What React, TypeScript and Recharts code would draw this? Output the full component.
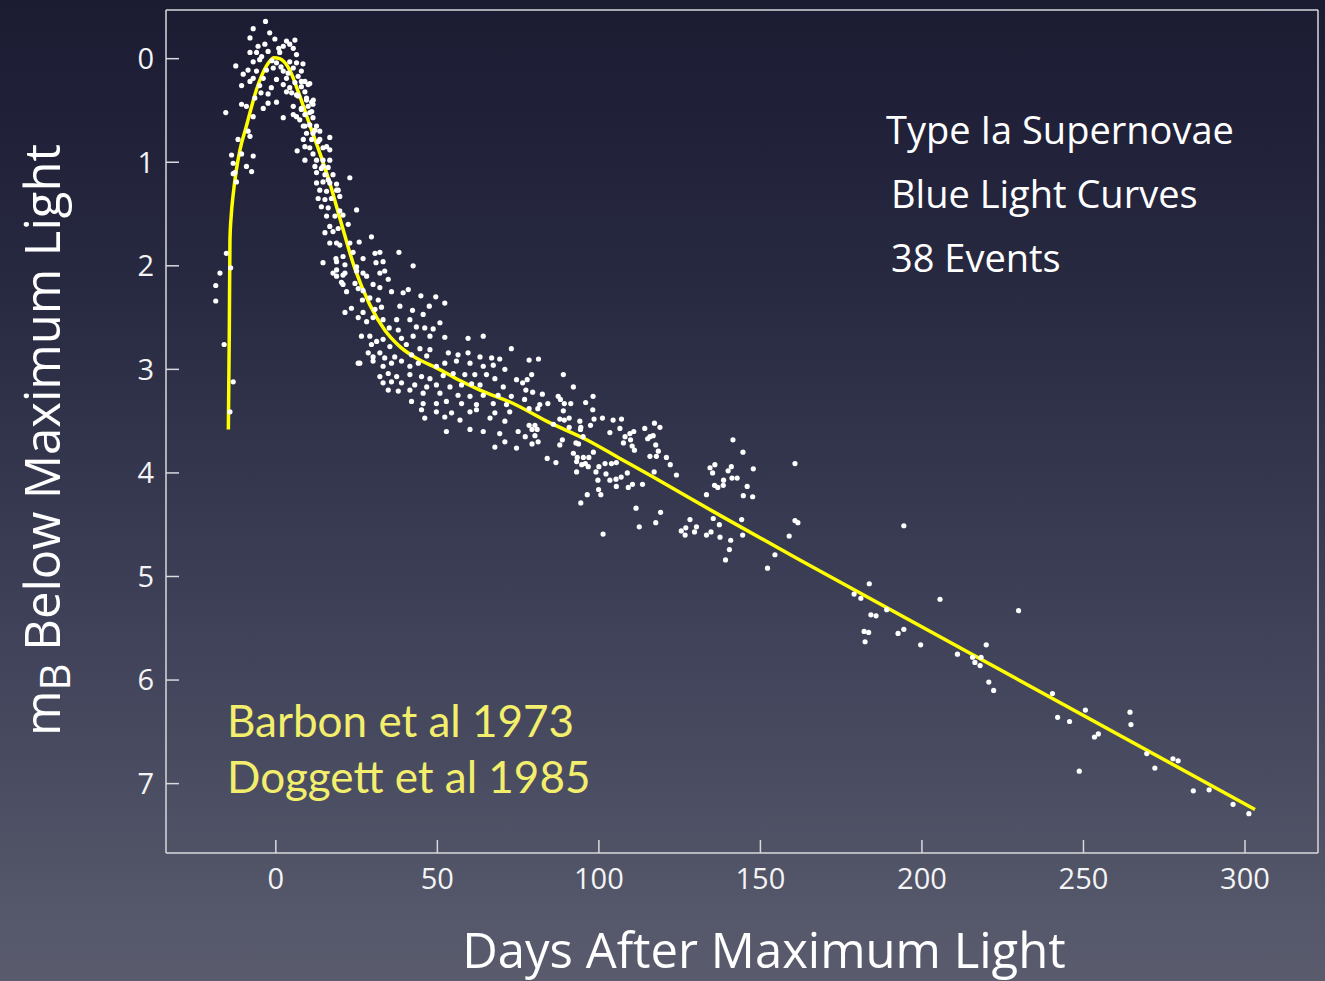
import React from 'react';
import { ComposedChart, Scatter, Line, XAxis, YAxis } from 'recharts';

// [days after maximum, magnitudes below maximum]
const risePoints: [number, number][] = [
  [-18.6, 2.19], [-18.6, 2.34], [-17.3, 2.07], [-16.0, 2.76], [-13.2, 3.12], [-14.2, 3.41],
  [-15.3, 1.88], [-14.0, 2.02], [-15.5, 0.52], [-13.7, 0.93], [-13.2, 1.01], [-12.7, 1.10],
  [-13.2, 1.11], [-12.2, 1.19], [-11.7, 0.78], [-10.6, 0.92], [-9.1, 1.04], [-7.5, 1.09],
  [-7.0, 0.94], [-8.6, 0.70], [-8.0, 0.75], [-7.0, 0.56], [-10.6, 0.44], [-9.1, 0.46],
  [-6.5, 0.38], [-3.9, 0.48], [-2.4, 0.43], [0.2, 0.42], [-2.4, 0.34], [-10.6, 0.26],
  [-5.0, 0.26], [-8.0, 0.22], [-10.1, 0.15], [-7.0, 0.19], [-3.9, 0.19], [0.2, 0.20],
  [-12.4, 0.07], [-8.6, 0.11], [-6.0, 0.12], [-2.9, 0.11], [-0.8, 0.09], [-7.0, 0.03],
  [-5.0, 0.01], [0.2, 0.04], [-8.0, -0.06], [-6.0, -0.06], [-2.4, -0.07], [1.2, -0.06],
  [-3.4, -0.14], [-5.5, -0.12], [-8.0, -0.20], [-0.3, -0.19], [-1.9, -0.25], [-7.0, -0.29],
  [-3.2, -0.36], [-4.4, -0.02], [-1.2, 0.02], [-4.6, 0.33], [-1.4, 0.28],
];

const peakPoints: [number, number][] = [
  [3.3, -0.17], [5.9, -0.18], [2.3, -0.12], [4.3, -0.14], [5.4, -0.10], [6.4, -0.04],
  [4.3, 0.03], [6.4, 0.04], [2.3, 0.12], [5.4, 0.09], [7.9, 0.12], [3.3, 0.19], [6.9, 0.17],
  [9.0, 0.22], [2.3, 0.25], [4.3, 0.28], [7.9, 0.27], [10.5, 0.24], [3.3, 0.32], [6.4, 0.35],
  [9.0, 0.32], [2.3, 0.57], [5.4, 0.54], [11.1, 0.51], [11.6, 0.40], [9.5, 0.40], [7.9, 0.49],
  [11.5, 0.57], [9.0, 0.65], [12.1, 0.69], [13.6, 0.78], [15.7, 0.85], [14.6, 1.04],
  [16.2, 1.17], [18.8, 1.27], [5.9, 0.23], [7.9, 0.22], [10.0, 0.25], [4.9, 0.33], [6.9, 0.36],
  [9.5, 0.38], [11.1, 0.42], [5.4, 0.46], [7.9, 0.48], [10.0, 0.46], [11.5, 0.44], [6.4, 0.56],
  [9.0, 0.54], [10.5, 0.52], [7.4, 0.59], [1.6, 0.08], [3.8, 0.14], [8.4, 0.05], [0.9, -0.1],
];

const earlyDeclinePoints: [number, number][] = [
  [8.5, 0.65], [10.5, 0.64], [12.6, 0.65], [9.5, 0.72], [11.5, 0.72], [13.6, 0.70], [16.7, 0.76],
  [8.5, 0.78], [11.1, 0.78], [13.1, 0.80], [9.0, 0.85], [10.5, 0.86], [14.6, 0.86], [16.7, 0.88],
  [6.6, 0.89], [11.5, 0.92], [9.0, 0.98], [12.6, 0.98], [14.6, 0.98], [16.7, 0.98], [12.1, 1.04],
  [14.1, 1.06], [16.2, 1.05], [12.6, 1.10], [15.2, 1.12], [17.7, 1.12], [22.9, 1.15], [12.6, 1.20],
  [14.6, 1.19], [16.7, 1.20], [18.8, 1.21], [13.6, 1.27], [15.7, 1.28], [19.3, 1.27], [13.1, 1.35],
  [15.2, 1.36], [17.2, 1.35], [19.8, 1.33], [25.0, 1.46], [14.1, 1.43], [16.2, 1.44], [19.8, 1.47],
  [15.7, 1.52], [18.3, 1.52], [20.8, 1.51], [16.7, 1.62], [19.3, 1.64], [22.4, 1.60], [15.2, 1.68],
  [17.7, 1.67], [16.7, 1.78], [19.8, 1.80], [22.9, 1.78], [14.6, 1.97], [18.8, 1.96], [17.7, 2.07],
  [20.8, 2.09], [25.0, 2.05], [20.8, 2.18], [25.5, 2.22],
];

const kneePoints: [number, number][] = [
  [29.6, 1.72], [25.8, 1.77], [18.8, 1.78], [32.2, 1.87], [30.7, 1.88], [38.1, 1.87], [23.9, 1.87],
  [20.8, 1.91], [18.6, 1.93], [27.0, 1.93], [31.0, 1.97], [33.2, 1.96], [42.5, 2.00], [21.4, 1.99],
  [25.0, 2.01], [18.8, 2.04], [21.4, 2.07], [27.0, 2.07], [32.2, 2.07], [33.7, 2.05], [18.8, 2.10],
  [28.1, 2.10], [34.8, 2.13], [20.3, 2.16], [24.5, 2.17], [32.2, 2.21], [30.1, 2.18], [27.0, 2.24],
  [21.9, 2.25], [35.8, 2.25], [39.4, 2.26], [41.0, 2.23], [44.9, 2.29], [49.5, 2.30], [52.3, 2.36],
  [26.8, 2.33], [29.1, 2.31], [31.7, 2.33], [23.4, 2.41], [21.4, 2.45], [27.0, 2.45], [30.7, 2.42],
  [32.7, 2.40], [38.4, 2.39], [42.3, 2.43], [47.5, 2.39], [45.6, 2.47], [33.2, 2.52], [28.1, 2.54],
  [30.1, 2.50], [25.5, 2.50], [37.4, 2.52], [41.5, 2.52], [50.8, 2.55], [35.1, 2.60], [37.9, 2.62],
  [43.5, 2.59], [46.1, 2.60], [48.7, 2.61], [26.5, 2.68], [29.1, 2.68], [31.2, 2.73], [33.2, 2.71],
  [38.9, 2.70], [42.5, 2.68], [47.7, 2.68], [52.3, 2.69], [59.5, 2.70], [64.2, 2.68], [72.9, 2.80],
  [29.6, 2.76], [35.3, 2.78], [40.4, 2.76], [44.6, 2.80], [47.7, 2.81], [28.6, 2.84], [30.1, 2.88],
  [32.2, 2.84], [33.7, 2.89], [36.8, 2.88], [42.0, 2.86], [46.7, 2.87], [53.4, 2.84], [56.4, 2.86],
  [59.5, 2.84], [63.2, 2.88], [66.8, 2.89], [69.3, 2.90], [26.0, 2.94], [30.1, 2.92], [33.2, 2.97],
  [35.8, 2.94], [38.9, 2.92], [41.5, 2.97], [44.1, 2.94], [49.7, 2.97], [52.3, 2.94], [55.9, 2.92],
  [60.1, 2.94], [64.2, 2.97], [67.3, 2.96], [70.9, 3.00], [32.2, 3.07], [34.8, 3.04], [37.4, 3.07],
  [41.5, 3.05], [45.1, 3.07], [47.7, 3.09], [51.8, 3.06], [54.9, 3.04], [58.5, 3.05], [61.6, 3.05],
  [65.2, 3.05], [67.8, 3.09], [74.5, 3.10], [33.2, 3.13], [35.8, 3.12], [38.9, 3.13], [43.0, 3.15],
  [46.7, 3.17], [49.7, 3.15], [53.9, 3.17], [57.5, 3.15], [60.6, 3.14], [63.2, 3.15], [70.4, 3.17],
  [34.8, 3.20], [37.9, 3.21], [41.5, 3.20], [45.6, 3.23], [50.8, 3.23], [56.4, 3.25], [60.1, 3.26],
  [64.2, 3.25], [68.8, 3.25], [72.9, 3.26], [42.0, 3.31], [45.6, 3.33], [49.7, 3.33], [52.8, 3.31],
  [57.5, 3.33], [62.1, 3.34], [67.3, 3.33], [71.4, 3.34], [45.1, 3.39], [49.7, 3.41], [52.3, 3.46],
  [54.4, 3.42], [60.1, 3.41], [62.1, 3.39], [67.8, 3.42], [72.4, 3.41], [46.1, 3.47], [57.0, 3.49],
  [66.3, 3.47], [70.9, 3.50], [52.8, 3.60], [60.1, 3.58], [64.2, 3.60], [69.3, 3.62], [75.0, 3.60],
  [70.9, 3.70], [74.5, 3.76], [67.8, 3.75], [25.5, 2.94],
];

const plateauPoints: [number, number][] = [
  [78.4, 2.91], [81.3, 2.90], [79.2, 3.05], [89.0, 3.05], [76.4, 3.13], [77.8, 3.10], [77.4, 3.20],
  [79.5, 3.22], [82.5, 3.24], [92.1, 3.17], [87.4, 3.26], [88.1, 3.29], [89.3, 3.33], [91.3, 3.33],
  [95.9, 3.32], [98.2, 3.26], [77.0, 3.29], [81.7, 3.34], [84.2, 3.33], [78.4, 3.38], [81.1, 3.38],
  [89.0, 3.40], [98.1, 3.39], [101.1, 3.47], [87.9, 3.48], [89.3, 3.49], [90.8, 3.47], [90.8, 3.56],
  [94.1, 3.50], [94.4, 3.56], [97.4, 3.54], [98.5, 3.48], [78.4, 3.54], [80.2, 3.54], [79.3, 3.58],
  [80.9, 3.58], [77.2, 3.65], [80.2, 3.64], [79.3, 3.72], [81.2, 3.70], [85.9, 3.53], [88.7, 3.68],
  [87.9, 3.73], [92.9, 3.71], [93.7, 3.72], [95.1, 3.65], [94.3, 3.58], [103.4, 3.61], [104.4, 3.49],
  [106.5, 3.57], [107.0, 3.48], [108.1, 3.65], [109.8, 3.68], [109.6, 3.62], [110.8, 3.60],
  [107.6, 3.71], [110.3, 3.74], [111.0, 3.78], [114.2, 3.57], [115.1, 3.67], [115.8, 3.65],
  [116.8, 3.64], [117.2, 3.52], [118.9, 3.56], [117.6, 3.73], [118.4, 3.79], [115.8, 3.84],
  [117.8, 3.84], [120.9, 3.85], [122.1, 3.92], [124.0, 4.02], [92.1, 3.81], [93.3, 3.85],
  [95.2, 3.85], [96.9, 3.85], [98.3, 3.80], [95.8, 3.91], [96.7, 3.94], [94.7, 3.92], [93.1, 3.99],
  [100.0, 3.94], [101.9, 3.91], [103.9, 3.91], [105.4, 3.90], [99.1, 3.99], [102.2, 4.01],
  [99.7, 4.07], [103.4, 4.07], [105.3, 4.06], [106.9, 4.04], [108.8, 4.00], [110.4, 4.11],
  [109.1, 4.14], [105.4, 4.13], [113.5, 4.11], [117.1, 3.99], [99.9, 4.16], [100.6, 4.21],
  [96.4, 4.21], [94.4, 4.29], [84.0, 3.86], [86.7, 3.90], [93.1, 3.89], [111.5, 4.34], [112.5, 4.52],
  [119.1, 4.38], [117.6, 4.48], [101.3, 4.59], [133.3, 4.21], [134.4, 3.95], [135.9, 3.92],
  [135.2, 4.00], [135.8, 4.12], [136.8, 4.14], [138.5, 4.12], [138.6, 4.07], [140.0, 3.98],
  [141.0, 3.94], [141.2, 4.05], [142.8, 4.05], [141.5, 3.68], [144.6, 3.80], [145.9, 4.13],
  [144.7, 4.22], [147.6, 4.23], [147.8, 3.96], [128.2, 4.45], [126.9, 4.53], [125.5, 4.56],
  [126.7, 4.60], [129.6, 4.57], [130.2, 4.52], [133.3, 4.60], [134.7, 4.57], [135.4, 4.44],
  [137.3, 4.50], [137.5, 4.62], [140.8, 4.65], [140.4, 4.74], [139.2, 4.84], [144.2, 4.45],
  [144.5, 4.60], [154.5, 4.79], [152.2, 4.92], [158.9, 4.61], [160.7, 3.91], [160.7, 4.46],
  [161.6, 4.48],
];

const tailPoints: [number, number][] = [
  [194.4, 4.51], [183.7, 5.07], [179.0, 5.17], [181.1, 5.21], [205.6, 5.22], [229.9, 5.33],
  [184.2, 5.37], [185.8, 5.38], [189.1, 5.32], [182.1, 5.53], [183.5, 5.54], [194.4, 5.51],
  [192.6, 5.55], [182.4, 5.63], [199.6, 5.66], [211.0, 5.75], [219.9, 5.66], [215.7, 5.78],
  [218.3, 5.78], [216.4, 5.83], [218.0, 5.86], [220.7, 6.02], [222.2, 6.10], [240.4, 6.13],
  [242.0, 6.36], [245.7, 6.40], [250.6, 6.29], [248.7, 6.88], [254.6, 6.52], [253.4, 6.55],
  [264.4, 6.31], [264.7, 6.43], [269.6, 6.71], [272.1, 6.85], [277.7, 6.76], [279.3, 6.78],
  [284.0, 7.07], [288.9, 7.06], [296.3, 7.20], [301.2, 7.29],
];

// template light curve drawn through the data
const templateCurve: [number, number][] = [
  [-14.7, 3.58], [-14.4, 2.62], [-14.2, 1.75], [-13.8, 1.51], [-13.2, 1.31], [-12.2, 1.07],
  [-11.1, 0.88], [-9.1, 0.65], [-6.0, 0.30], [-2.9, 0.07], [-0.6, -0.01], [1.2, 0.0], [4.3, 0.11],
  [7.4, 0.36], [10.5, 0.64], [13.6, 0.91], [16.7, 1.2], [20.0, 1.56], [24.5, 2.03], [29.0, 2.37],
  [33.7, 2.62], [38.4, 2.78], [44.0, 2.90], [50.0, 2.99], [56.5, 3.10], [63.2, 3.20], [73.5, 3.33],
  [83.8, 3.50], [96.2, 3.68], [106.5, 3.86], [116.8, 4.04], [137.5, 4.41], [162.2, 4.84],
  [303.1, 7.25],
];

const dayTicks = [0, 50, 100, 150, 200, 250, 300];
const magTicks = [0, 1, 2, 3, 4, 5, 6, 7];

const toRows = (pts: [number, number][]) => pts.map(([day, mag]) => ({ day, mag }));

const observations = toRows([
  ...risePoints,
  ...peakPoints,
  ...earlyDeclinePoints,
  ...kneePoints,
  ...plateauPoints,
  ...tailPoints,
]);
const curve = toRows(templateCurve);

const W = 1325;
const H = 981;
const axisColor = '#d9d9de';
const sans = '"Open Sans", "DejaVu Sans", sans-serif';
const gill = 'Lato, "Open Sans", sans-serif';

const Dot = (props: any) => <circle cx={props.cx} cy={props.cy} r={2.6} fill="#ffffff" />;

export default function App() {
  const line = { stroke: axisColor, strokeWidth: 1.5 };
  const tickText = { fill: '#f4f4f6', fontSize: 29, fontFamily: sans };
  return (
    <div
      style={{
        position: 'absolute',
        left: 0,
        top: 0,
        width: W,
        height: H,
        overflow: 'hidden',
        background: 'linear-gradient(180deg, #1b1b32 0%, #282a42 30%, #3d4057 62%, #5a5c6e 100%)',
      }}
    >
      <ComposedChart width={W} height={H} margin={{ top: 9, right: 6, bottom: 127, left: 165 }}>
        <XAxis
          dataKey="day"
          type="number"
          domain={[-34, 322.6]}
          allowDataOverflow
          ticks={dayTicks}
          interval={0}
          height={1}
          axisLine={line}
          tickLine={line}
          tickSize={-13}
          tickMargin={28}
          tick={tickText}
        />
        <XAxis
          xAxisId="top"
          orientation="top"
          type="number"
          domain={[-34, 322.6]}
          allowDataOverflow
          ticks={dayTicks}
          interval={0}
          height={1}
          axisLine={line}
          tickLine={line}
          tickSize={-12}
          tick={false}
        />
        <YAxis
          dataKey="mag"
          type="number"
          reversed
          domain={[-0.47, 7.67]}
          allowDataOverflow
          ticks={magTicks}
          interval={0}
          width={1}
          axisLine={line}
          tickLine={line}
          tickSize={-13}
          tickMargin={25}
          tick={tickText}
        />
        <YAxis
          yAxisId="right"
          orientation="right"
          type="number"
          reversed
          domain={[-0.47, 7.67]}
          allowDataOverflow
          ticks={magTicks}
          interval={0}
          width={1}
          axisLine={line}
          tickLine={line}
          tickSize={-14}
          tick={false}
        />
        <Scatter data={observations} shape={Dot} isAnimationActive={false} />
        <Line
          data={curve}
          dataKey="mag"
          type="monotone"
          stroke="#ffff00"
          strokeWidth={3.5}
          dot={false}
          activeDot={false}
          isAnimationActive={false}
        />
      </ComposedChart>
      <svg
        width={W}
        height={H}
        style={{ position: 'absolute', left: 0, top: 0, pointerEvents: 'none' }}
      >
        <g fill="#ffffff" fontFamily={sans} fontSize={38}>
          <text x={886} y={144}>Type Ia Supernovae</text>
          <text x={891} y={208}>Blue Light Curves</text>
          <text x={891} y={272}>38 Events</text>
        </g>
        <g fill="#f3ef6c" fontFamily={gill} fontSize={44}>
          <text x={227} y={737}>Barbon et al 1973</text>
          <text x={227} y={793}>Doggett et al 1985</text>
        </g>
        <text x={764} y={968} textAnchor="middle" fill="#ffffff" fontFamily={sans} fontSize={49}>
          Days After Maximum Light
        </text>
        <text
          transform="translate(60, 440) rotate(-90)"
          textAnchor="middle"
          fill="#ffffff"
          fontFamily={sans}
          fontSize={49}
        >
          m<tspan fontSize={42} dy={10}>B</tspan>
          <tspan dy={-10}> Below Maximum Light</tspan>
        </text>
      </svg>
    </div>
  );
}
